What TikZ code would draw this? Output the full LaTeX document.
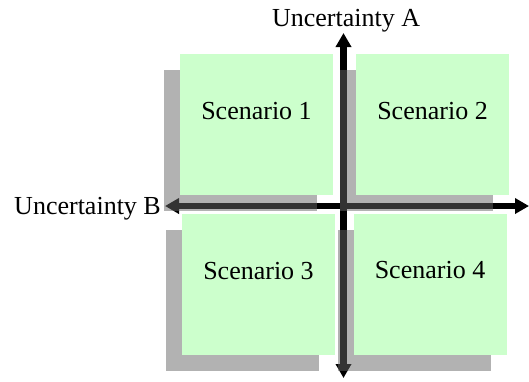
\documentclass[tikz,border=0pt]{standalone}
\usepackage{fontspec}
\setmainfont{Liberation Serif}
\usetikzlibrary{arrows.meta,positioning,shadows}
\definecolor{mint}{RGB}{204,255,204}
\definecolor{ink}{RGB}{0,0,0}
\tikzset{
  >={Triangle[length=14pt,width=15pt]},
  axis/.style={<->,line width=6.5pt,draw=ink},
  scenario/.style={fill=mint,inner sep=0pt,minimum width=153pt,minimum height=141pt,
    text height=17pt,text depth=28pt,font=\fontsize{26}{30}\selectfont,
    drop shadow={shadow xshift=-16pt,shadow yshift=-16pt,fill=black!60,opacity=0.5}},
  tag/.style={font=\fontsize{26}{30}\selectfont,inner sep=0pt},
}
\begin{document}
\begin{tikzpicture}[x=1pt,y=-1pt]
  \useasboundingbox (0,0) rectangle (529,381);
  % the two uncertainty axes
  \coordinate (atop) at (343.5,33);
  \coordinate (abot) at (343.5,378);
  \coordinate (aleft) at (165,206);
  \coordinate (aright) at (529,206);
  \draw[axis] (aleft) -- (aright);
  \draw[axis] (atop) -- (abot);
  % quadrants
  \foreach \x/\y/\n in {256.5/124.5/1,432.5/124.5/2,258.5/284.5/3,430/284/4}{
    \node[scenario] (s\n) at (\x,\y) {Scenario \n};
  }
  \node[tag,anchor=base] (ua) at ([xshift=2.5pt,yshift=7pt]atop) {Uncertainty A};
  \node[tag,anchor=base east] (ub) at ([xshift=-4pt,yshift=-8pt]aleft) {Uncertainty B};
\end{tikzpicture}
\end{document}
